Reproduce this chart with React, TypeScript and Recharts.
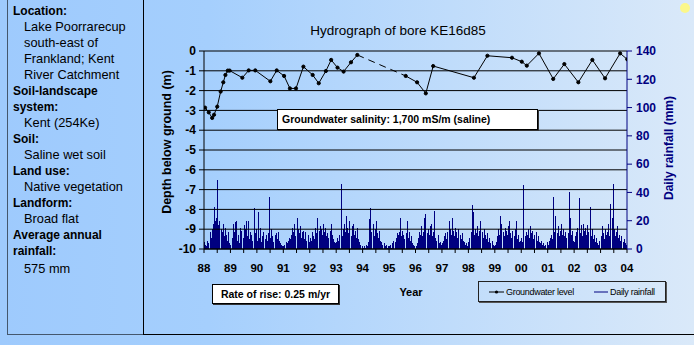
import React from 'react';
import { ComposedChart, BarChart, Bar, Line, XAxis, YAxis, CartesianGrid } from 'recharts';

const FONT = '"Liberation Sans", Arial, sans-serif';
const NAVY = '#000080';

// groundwater level, depth below ground (m)
const gwYears = [
  1988.04, 1988.18, 1988.31, 1988.38, 1988.5, 1988.63, 1988.73, 1988.81, 1988.9, 1988.97,
  1989.45, 1989.69, 1989.94, 1990.51, 1990.75, 1991.03, 1991.25, 1991.48, 1991.76, 1992.11,
  1992.34, 1992.61, 1992.81, 1993.05, 1993.28, 1993.56, 1993.8,
  1995.63, 1996.06, 1996.39, 1996.67, 1998.21, 1998.72, 1999.65, 2000.02, 2000.21, 2000.67,
  2001.21, 2001.63, 2002.16, 2002.69, 2003.17, 2003.74, 2004.01,
];
const gwDepths = [
  -2.86, -3.1, -3.38, -3.22, -2.81, -2.05, -1.58, -1.21, -0.99, -0.99,
  -1.35, -0.98, -0.98, -1.53, -0.98, -1.26, -1.89, -1.89, -0.79, -1.21,
  -1.63, -1.01, -0.45, -0.84, -1.04, -0.57, -0.2,
  -1.26, -1.58, -2.14, -0.76, -1.35, -0.24, -0.34, -0.54, -0.74, -0.12,
  -1.41, -0.66, -1.58, -0.45, -1.38, -0.12, -0.42,
];
// no readings between these two, drawn dashed
const gapYears = [1993.8, 1995.63];
const gapDepths = [-0.2, -1.26];

// daily rainfall (mm), sampled twice a month
const rainStart = 1988;
const rain1988 = [5, 3, 2, 6, 4, 12, 8, 14, 18, 30, 20, 22, 49, 17, 20, 14, 12, 18, 9, 15, 10, 6, 12, 4];
const rain1989 = [3, 8, 18, 12, 19, 20, 6, 10, 4, 15, 13, 8, 17, 14, 20, 9, 20, 7, 12, 10, 6, 29, 11, 14];
const rain1990 = [6, 26, 8, 15, 5, 9, 12, 7, 10, 6, 11, 37, 8, 14, 9, 5, 10, 11, 7, 12, 6, 4, 3, 2];
const rain1991 = [2, 3, 5, 4, 6, 8, 7, 10, 15, 12, 18, 9, 22, 14, 11, 16, 8, 12, 13, 7, 12, 6, 10, 5];
const rain1992 = [8, 6, 12, 9, 7, 15, 11, 22, 13, 16, 14, 10, 18, 12, 15, 9, 11, 8, 13, 18, 10, 7, 5, 4];
const rain1993 = [5, 8, 6, 10, 46, 9, 14, 18, 12, 23, 15, 11, 20, 9, 16, 18, 10, 13, 8, 15, 7, 5, 3, 2];
const rain1994 = [1, 2, 1, 3, 2, 5, 21, 29, 12, 18, 9, 14, 20, 11, 8, 13, 6, 5, 3, 4, 2, 3, 1, 2];
const rain1995 = [2, 3, 1, 4, 6, 5, 8, 11, 10, 12, 22, 9, 13, 10, 7, 11, 20, 8, 12, 6, 9, 4, 3, 2];
const rain1996 = [2, 4, 8, 12, 10, 16, 9, 12, 22, 25, 11, 14, 10, 16, 18, 9, 12, 27, 8, 6, 10, 4, 5, 3];
const rain1997 = [4, 6, 9, 11, 7, 12, 20, 14, 10, 22, 13, 9, 15, 12, 8, 14, 10, 7, 11, 6, 5, 3, 4, 2];
const rain1998 = [5, 8, 12, 31, 26, 10, 14, 11, 16, 9, 13, 20, 12, 8, 14, 10, 7, 11, 5, 8, 4, 6, 3, 2];
const rain1999 = [3, 5, 9, 14, 10, 23, 18, 12, 9, 15, 13, 10, 16, 20, 11, 8, 13, 9, 14, 20, 7, 10, 5, 6];
const rain2000 = [8, 5, 45, 9, 12, 10, 14, 8, 16, 11, 13, 7, 10, 12, 6, 9, 5, 4, 6, 3, 4, 2, 3, 5];
const rain2001 = [3, 6, 8, 10, 7, 37, 12, 23, 11, 16, 9, 13, 18, 10, 14, 9, 12, 8, 11, 40, 22, 10, 13, 6];
const rain2002 = [5, 9, 12, 15, 36, 11, 17, 9, 18, 13, 15, 10, 17, 12, 30, 9, 14, 7, 10, 5, 8, 4, 3, 6];
const rain2003 = [9, 16, 11, 7, 14, 10, 12, 18, 9, 32, 22, 46, 14, 9, 12, 16, 8, 10, 6, 9, 5, 7, 4, 3];
const rainByYear = [
  rain1988, rain1989, rain1990, rain1991, rain1992, rain1993, rain1994, rain1995,
  rain1996, rain1997, rain1998, rain1999, rain2000, rain2001, rain2002, rain2003,
];

const yearTicks = [
  1988, 1988.5, 1989, 1989.5, 1990, 1990.5, 1991, 1991.5, 1992, 1992.5, 1993, 1993.5,
  1994, 1994.5, 1995, 1995.5, 1996, 1996.5, 1997, 1997.5, 1998, 1998.5, 1999, 1999.5,
  2000, 2000.5, 2001, 2001.5, 2002, 2002.5, 2003, 2003.5, 2004,
];
const depthTicks = [-10, -9, -8, -7, -6, -5, -4, -3, -2, -1, 0];
const depthMinorTicks = [-9.5, -8.5, -7.5, -6.5, -5.5, -4.5, -3.5, -2.5, -1.5, -0.5];
const rainTicks = [0, 20, 40, 60, 80, 100, 120, 140];
const rainMinorTicks = [10, 30, 50, 70, 90, 110, 130];

const infoLines: [string, boolean][] = [
  ['Location:', true],
  ['Lake Poorrarecup', false],
  ['south-east of', false],
  ['Frankland; Kent', false],
  ['River Catchment', false],
  ['Soil-landscape', true],
  ['system:', true],
  ['Kent (254Ke)', false],
  ['Soil:', true],
  ['Saline wet soil', false],
  ['Land use:', true],
  ['Native vegetation', false],
  ['Landform:', true],
  ['Broad flat', false],
  ['Average annual', true],
  ['rainfall:', true],
  ['575 mm', false],
];

type GwRow = { year: number; gwA?: number; gwB?: number; gap?: number };

const rainRows: { year: number; rain: number }[] = [];
rainByYear.forEach((vals, yi) =>
  vals.forEach((v, i) => rainRows.push({ year: rainStart + yi + (i + 0.5) / 24, rain: v }))
);

const gwRows: GwRow[] = [];
gwYears.forEach((y, i) => {
  if (y <= gapYears[0]) gwRows.push({ year: y, gwA: gwDepths[i] });
  else gwRows.push({ year: y, gwB: gwDepths[i] });
});
gapYears.forEach((y, i) => gwRows.push({ year: y, gap: gapDepths[i] }));
gwRows.sort((a, b) => a.year - b.year);

const fmtYear = (v: number) => (Number.isInteger(v) ? String(v % 100).padStart(2, '0') : '');

const dotStyle = { r: 1.6, fill: '#000', stroke: '#000', strokeWidth: 1 };

// plot area: x 204..627, y 51..249
const PLOT_MARGIN = { top: 51, right: 67, bottom: 96, left: 204 };

export default function App() {
  return (
    <div
      style={{
        position: 'absolute',
        left: 0,
        top: 0,
        width: 694,
        height: 345,
        overflow: 'hidden',
        background: 'linear-gradient(to right, #9ecafd 0%, #a5cffd 30%, #dae9f9 100%)',
        fontFamily: FONT,
      }}
    >
      {/* site info panel */}
      <div
        style={{
          position: 'absolute',
          left: 7,
          top: 0,
          width: 135,
          height: 334,
          borderLeft: '1px solid #44576d',
          borderBottom: '1px solid #44576d',
          borderRight: '1px solid #000',
        }}
      >
        <div style={{ position: 'absolute', left: 5, top: 3 }}>
          {infoLines.map(([t, b], i) => (
            <div
              key={i}
              style={{
                fontSize: b ? 12 : 12.8,
                fontWeight: b ? 'bold' : 'normal',
                lineHeight: '16px',
                height: 16,
                whiteSpace: 'nowrap',
                paddingLeft: b ? 0 : 11,
                marginTop: i === infoLines.length - 1 ? 2 : 0,
                color: '#000',
              }}
            >
              {t}
            </div>
          ))}
        </div>
      </div>
      <div style={{ position: 'absolute', left: 143, top: 334, width: 551, height: 1, background: '#000' }} />

      {/* daily rainfall bars */}
      <div style={{ position: 'absolute', left: 0, top: 0 }}>
        <BarChart width={694} height={345} data={rainRows} margin={PLOT_MARGIN} barCategoryGap={0}>
          <XAxis dataKey="year" type="number" domain={[1988, 2004]} hide allowDataOverflow />
          <YAxis type="number" domain={[0, 140]} hide allowDataOverflow />
          <Bar dataKey="rain" fill={NAVY} barSize={1} shapeRendering="crispEdges" isAnimationActive={false} />
        </BarChart>
      </div>

      {/* groundwater level and axes */}
      <div style={{ position: 'absolute', left: 0, top: 0 }}>
        <ComposedChart width={694} height={345} data={gwRows} margin={{ top: 51, right: 37, bottom: 66, left: 174 }}>
          <CartesianGrid yAxisId="depth" vertical={false} stroke="#000" strokeWidth={1} />
          <XAxis
            dataKey="year"
            type="number"
            domain={[1988, 2004]}
            ticks={yearTicks}
            interval={0}
            tickFormatter={fmtYear}
            tickSize={4}
            tickMargin={11}
            height={30}
            stroke="#000"
            allowDataOverflow
            tick={{ fill: '#000', fontSize: 11.5, fontWeight: 'bold', fontFamily: FONT }}
          />
          <YAxis
            yAxisId="depthMinor"
            orientation="left"
            type="number"
            domain={[-10, 0]}
            allowDataOverflow
            ticks={depthMinorTicks}
            interval={0}
            width={0}
            tick={false}
            tickSize={3}
            axisLine={false}
            stroke="#000"
          />
          <YAxis
            yAxisId="depth"
            orientation="left"
            type="number"
            domain={[-10, 0]}
            allowDataOverflow
            ticks={depthTicks}
            interval={0}
            width={30}
            tickSize={5}
            tickMargin={3}
            stroke="#000"
            tick={{ fill: '#000', fontSize: 12, fontWeight: 'bold', fontFamily: FONT }}
          />
          <YAxis
            yAxisId="rainMinor"
            orientation="right"
            type="number"
            domain={[0, 140]}
            allowDataOverflow
            ticks={rainMinorTicks}
            interval={0}
            width={0}
            tick={false}
            tickSize={3}
            axisLine={false}
            stroke={NAVY}
          />
          <YAxis
            yAxisId="rain"
            orientation="right"
            type="number"
            domain={[0, 140]}
            allowDataOverflow
            ticks={rainTicks}
            interval={0}
            width={30}
            tickSize={5}
            tickMargin={4}
            stroke={NAVY}
            tick={{ fill: NAVY, fontSize: 12, fontWeight: 'bold', fontFamily: FONT }}
          />
          <Line
            yAxisId="depth"
            dataKey="gwA"
            stroke="#000"
            strokeWidth={1}
            connectNulls
            dot={dotStyle}
            activeDot={false}
            isAnimationActive={false}
          />
          <Line
            yAxisId="depth"
            dataKey="gwB"
            stroke="#000"
            strokeWidth={1}
            connectNulls
            dot={dotStyle}
            activeDot={false}
            isAnimationActive={false}
          />
          <Line
            yAxisId="depth"
            dataKey="gap"
            stroke="#000"
            strokeWidth={1}
            strokeDasharray="7 5"
            connectNulls
            dot={false}
            activeDot={false}
            isAnimationActive={false}
          />
        </ComposedChart>
      </div>

      {/* titles */}
      <svg width={694} height={345} style={{ position: 'absolute', left: 0, top: 0, pointerEvents: 'none' }}>
        <text x={398} y={35} textAnchor="middle" fontSize={13.5} fontFamily={FONT} fill="#000">
          Hydrograph of bore KE16d85
        </text>
        <text
          transform="translate(171,142) rotate(-90)"
          textAnchor="middle"
          fontSize={12.5}
          fontWeight="bold"
          fontFamily={FONT}
          fill="#000"
        >
          Depth below ground (m)
        </text>
        <text
          transform="translate(673,148) rotate(-90)"
          textAnchor="middle"
          fontSize={12}
          fontWeight="bold"
          fontFamily={FONT}
          fill={NAVY}
        >
          Daily rainfall (mm)
        </text>
        <text x={411} y={296} textAnchor="middle" fontSize={11} fontWeight="bold" fontFamily={FONT} fill="#000">
          Year
        </text>
        <circle cx={685} cy={8} r={5} fill="#fbf78a" />
      </svg>

      {/* salinity note */}
      <div
        style={{
          position: 'absolute',
          left: 277,
          top: 109,
          width: 255,
          height: 19,
          background: '#fff',
          border: '1px solid #000',
          boxShadow: '1px 1px 0 #333',
          fontSize: 10.5,
          fontWeight: 'bold',
          lineHeight: '19px',
          paddingLeft: 4,
          whiteSpace: 'nowrap',
        }}
      >
        Groundwater salinity: 1,700 mS/m (saline)
      </div>

      {/* rate of rise note */}
      <div
        style={{
          position: 'absolute',
          left: 212,
          top: 284,
          width: 125,
          height: 18,
          background: '#fff',
          border: '1px solid #000',
          boxShadow: '1px 1px 0 #333',
          fontSize: 10.5,
          fontWeight: 'bold',
          lineHeight: '18px',
          textAlign: 'center',
          whiteSpace: 'nowrap',
        }}
      >
        Rate of rise: 0.25 m/yr
      </div>

      {/* legend */}
      <div
        style={{
          position: 'absolute',
          left: 478,
          top: 281,
          width: 186,
          height: 19,
          border: '1px solid #222',
          boxShadow: '1px 1px 0 #555',
        }}
      >
        <svg width={186} height={19} style={{ position: 'absolute', left: 0, top: 0 }}>
          <line x1={10} y1={10} x2={25} y2={10} stroke="#000" strokeWidth={1} />
          <circle cx={17.5} cy={10} r={1.6} fill="#000" />
          <line x1={115} y1={10} x2={129} y2={10} stroke={NAVY} strokeWidth={1} />
          <text x={27} y={13} fontSize={9} fontFamily={FONT} fill="#000" letterSpacing={-0.3}>
            Groundwater level
          </text>
          <text x={131} y={13} fontSize={9} fontFamily={FONT} fill="#000" letterSpacing={-0.3}>
            Daily rainfall
          </text>
        </svg>
      </div>
    </div>
  );
}
